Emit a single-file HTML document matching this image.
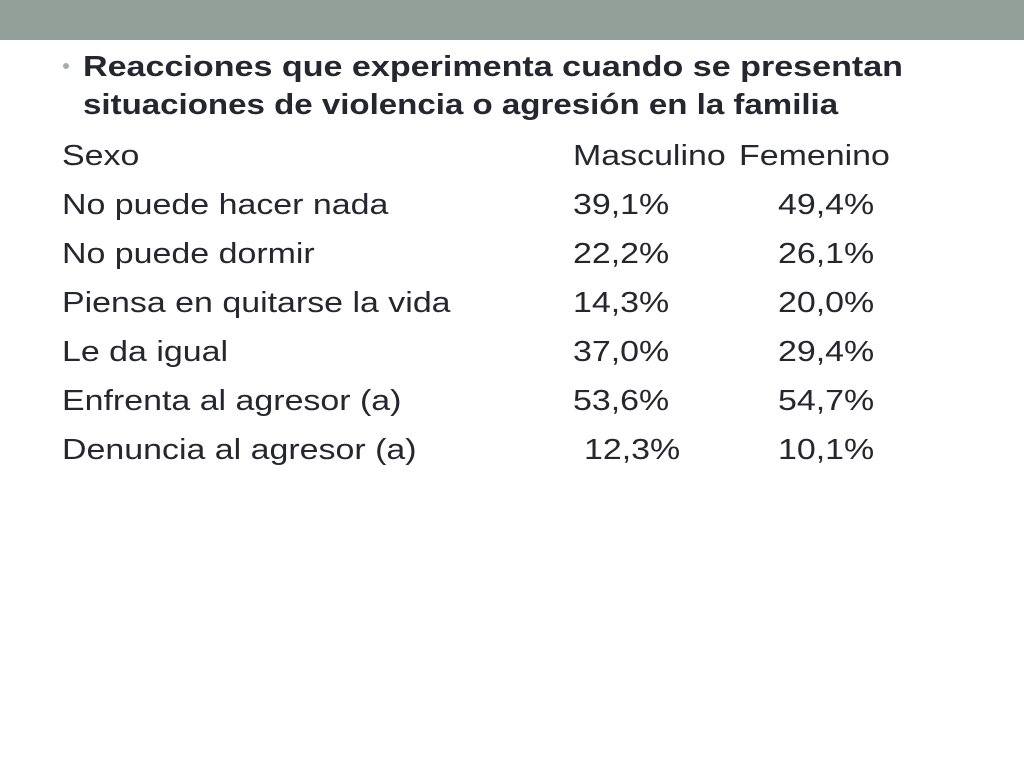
<!DOCTYPE html>
<html><head><meta charset="utf-8"><style>
body{margin:0;width:1024px;height:768px;background:#fff;position:relative;overflow:hidden;font-family:"Liberation Sans",Arial,sans-serif;color:#262630}
#bar{position:absolute;left:0;top:0;width:1024px;height:40px;background:#939f99}
.t{position:absolute;font-size:29px;line-height:29px;white-space:nowrap;transform:scaleX(1.17);transform-origin:0 0}
.b{font-weight:bold}
#bullet{position:absolute;left:63px;top:63px;width:6px;height:6px;border-radius:50%;background:#a4aea9}
</style></head><body>
<div id="bar"></div>
<div id="bullet"></div>
<div class="t b" style="left:83px;top:53px;transform:scaleX(1.175)">Reacciones que experimenta cuando se presentan</div>
<div class="t b" style="left:83px;top:91px;transform:scaleX(1.14)">situaciones de violencia o agresión en la familia</div>
<div id="rows"></div>
<script>
const labels=["Sexo","No puede hacer nada","No puede dormir","Piensa en quitarse la vida","Le da igual","Enfrenta al agresor (a)","Denuncia al agresor (a)"];
const masc=["Masculino","39,1%","22,2%","14,3%","37,0%","53,6%","12,3%"];
const fem=["Femenino","49,4%","26,1%","20,0%","29,4%","54,7%","10,1%"];
const root=document.getElementById('rows');
labels.forEach((l,i)=>{
  const top=142+i*49;
  const a=document.createElement('div');a.className='t';a.style.left='62px';a.style.top=top+'px';a.textContent=l;
  
  
  root.appendChild(a);
  const m=document.createElement('div');m.className='t';m.style.left=(i==6?584:573)+'px';m.style.top=top+'px';m.textContent=masc[i];
  
  
  root.appendChild(m);
  const f=document.createElement('div');f.className='t';f.style.left=(i==0?739:778)+'px';f.style.top=top+'px';f.textContent=fem[i];
  
  
  root.appendChild(f);
});
</script>
</body></html>
